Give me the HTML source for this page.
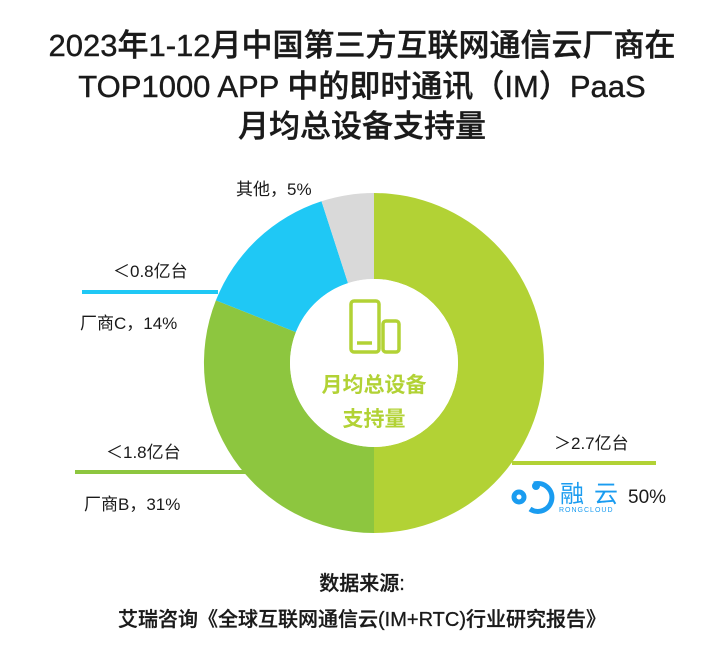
<!DOCTYPE html>
<html><head><meta charset="utf-8"><style>
body{margin:0;background:#fff;width:724px;height:661px;overflow:hidden}
svg text{font-family:"Liberation Sans","Noto Sans CJK SC",sans-serif}
</style></head><body>
<svg width="724" height="661" viewBox="0 0 724 661">
<g font-size="31" font-weight="500" fill="#1a1a1a" text-anchor="middle" font-family="'Noto Sans CJK SC',sans-serif" stroke="#1a1a1a" stroke-width="0.4">
<text x="362" y="56">2023年1-12月中国第三方互联网通信云厂商在</text>
<text x="362" y="97">TOP1000 APP 中的即时通讯（IM）PaaS</text>
<text x="362" y="137">月均总设备支持量</text>
</g>
<path d="M374,193 A170,170 0 0 1 374,533 L374,447 A84,84 0 0 0 374,279 Z" fill="#b2d235"/>
<path d="M374,533 A170,170 0 0 1 215.9,300.4 L295.9,332.1 A84,84 0 0 0 374,447 Z" fill="#8dc63f"/>
<path d="M215.9,300.4 A170,170 0 0 1 321.5,201.3 L348,283.1 A84,84 0 0 0 295.9,332.1 Z" fill="#1fc8f5"/>
<path d="M321.5,201.3 A170,170 0 0 1 374,193 L374,279 A84,84 0 0 0 348,283.1 Z" fill="#d9d9d9"/>
<circle cx="374" cy="363" r="84" fill="#fff"/>
<g fill="none" stroke="#b2d235" stroke-width="3.5">
<rect x="351" y="301" width="28" height="51" rx="3"/>
<rect x="383" y="321" width="16" height="31" rx="3"/>
</g>
<line x1="357" y1="343" x2="372" y2="343" stroke="#b2d235" stroke-width="3.5"/>
<g font-size="21" font-weight="bold" fill="#b2d235" text-anchor="middle">
<text x="374" y="392">月均总设备</text>
<text x="374" y="426">支持量</text>
</g>
<line x1="82" y1="292" x2="218" y2="292" stroke="#1fc8f5" stroke-width="4"/>
<line x1="75" y1="472" x2="248" y2="472" stroke="#8dc63f" stroke-width="4"/>
<line x1="512" y1="463" x2="656" y2="463" stroke="#b2d235" stroke-width="4"/>
<g font-size="17" fill="#1a1a1a">
<text x="236" y="195">其他，5%</text>
<text x="113" y="277">＜0.8亿台</text>
<text x="80" y="329">厂商C，14%</text>
<text x="106" y="458">＜1.8亿台</text>
<text x="84" y="510">厂商B，31%</text>
<text x="554" y="449">＞2.7亿台</text>
<text x="628" y="503" font-size="19">50%</text>
</g>
<g fill="none" stroke="#1a9cf0" stroke-width="5">
<circle cx="519" cy="497" r="5"/>
<path d="M534,484 A14,14 0 1 1 530,509"/>
</g>
<circle cx="536" cy="486" r="4" fill="#1a9cf0"/>
<text x="560" y="502" font-size="24" fill="#1a9cf0" letter-spacing="10">融云</text>
<text x="559" y="512" font-size="7" fill="#1a9cf0" letter-spacing="1">RONGCLOUD</text>
<g font-size="20" font-weight="500" fill="#1a1a1a" text-anchor="middle" font-family="'Noto Sans CJK SC',sans-serif" stroke="#1a1a1a" stroke-width="0.3">
<text x="362" y="590">数据来源:</text>
<text x="362" y="626">艾瑞咨询《全球互联网通信云(IM+RTC)行业研究报告》</text>
</g>
</svg>
</body></html>
